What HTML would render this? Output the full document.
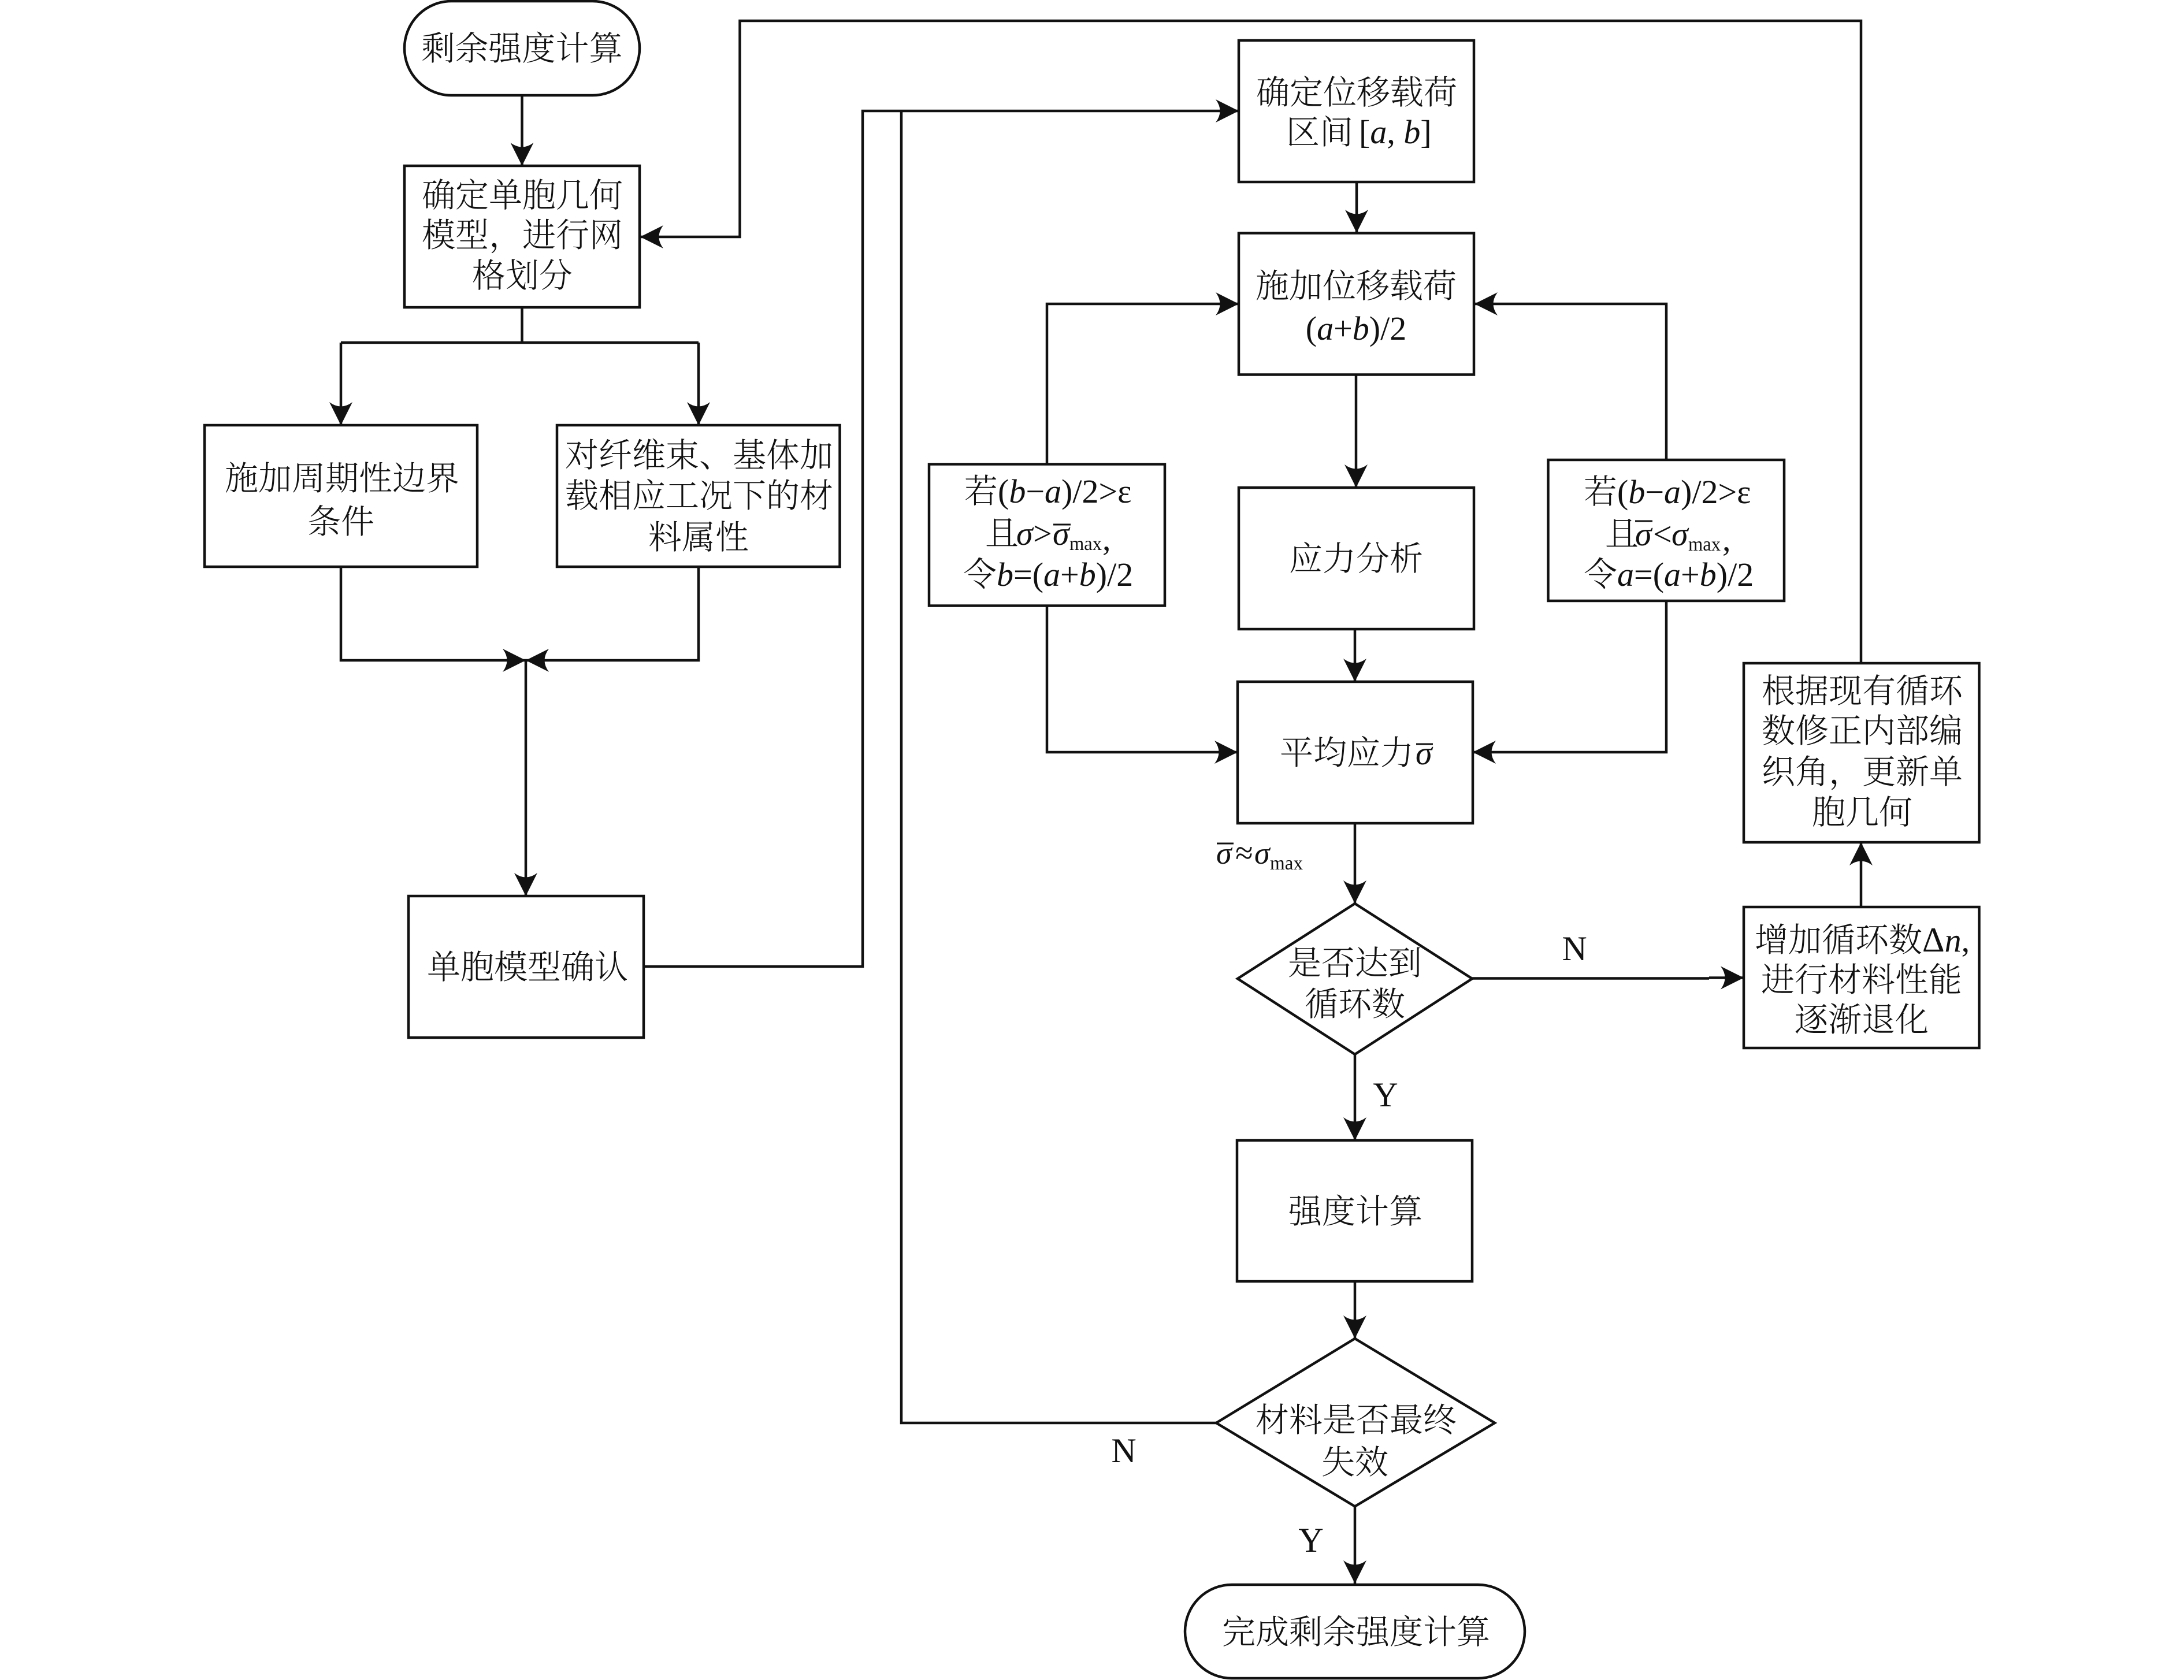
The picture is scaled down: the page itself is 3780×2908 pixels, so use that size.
<!DOCTYPE html>
<html><head><meta charset="utf-8"><style>
html,body{margin:0;padding:0;background:#fff}
svg{display:block}
text{font-family:"Liberation Serif","Noto Serif CJK SC",serif;font-size:58px;fill:#111;text-anchor:middle;font-weight:300}
.l{text-anchor:start}
.i{font-style:italic;font-weight:400}
.s{font-size:34px;font-weight:400;text-anchor:start}
.n{font-weight:400;font-size:60px}
.b{fill:#fff;stroke:#111;stroke-width:4.5}
.c{fill:none;stroke:#111;stroke-width:4.5}
.o{stroke:#111;stroke-width:3}
</style></head><body>
<svg xmlns="http://www.w3.org/2000/svg" width="3780" height="2908" viewBox="0 0 3780 2908">
<defs><path id="a" d="M0 0L-20-40Q0-25 20-40Z" fill="#111"/></defs>
<rect width="3780" height="2908" fill="#fff"/>

<!-- connectors -->
<path class="c" d="M903.5 165V287M903.5 532V593M590 593H1209M590 593V736M1209 593V736"/>
<path class="c" d="M590 981V1143H910M1209 981V1143H910M910 1143V1551"/>
<path class="c" d="M1114 1673H1493V192H2144M1560 192V2463H2105"/>
<path class="c" d="M3221 1148V36H1280.5V410H1108"/>
<path class="c" d="M2348 315V403M2347 648V844M2345 1089V1180M2345 1425V1564M2345 1825V1974M2345 2218V2317M2345 2607V2741"/>
<path class="c" d="M1812 803V526H2144M1812 1048V1302H2142M2884 796V526H2552M2884 1040V1302H2549"/>
<path class="c" d="M2548 1693.5H2958M2958 1692.5H3018M3221 1570V1458"/>

<!-- shapes -->
<rect class="b" x="700" y="2" width="407" height="163" rx="81.5"/>
<rect class="b" x="700" y="287" width="407" height="245"/>
<rect class="b" x="354" y="736" width="472" height="245"/>
<rect class="b" x="964" y="736" width="489.5" height="245"/>
<rect class="b" x="707" y="1551" width="407" height="245"/>
<rect class="b" x="2144" y="70" width="407" height="245"/>
<rect class="b" x="2144" y="403.500" width="407" height="245"/>
<rect class="b" x="1608" y="803.500" width="408" height="245"/>
<rect class="b" x="2679.500" y="796" width="408.500" height="244"/>
<rect class="b" x="2144" y="844" width="407" height="245"/>
<rect class="b" x="2142" y="1180" width="407" height="245"/>
<rect class="b" x="3018" y="1148" width="407.5" height="310"/>
<rect class="b" x="3018" y="1570" width="407.5" height="244"/>
<polygon class="b" points="2142,1694 2345,1564 2548,1694 2345,1825"/>
<rect class="b" x="2141" y="1974" width="407" height="244"/>
<polygon class="b" points="2105,2463 2345,2317 2587,2463 2345,2607.5"/>
<rect class="b" x="2051" y="2743" width="588" height="162" rx="81"/>

<!-- arrowheads -->
<use href="#a" transform="translate(903.5 287)"/>
<use href="#a" transform="translate(590 736)"/>
<use href="#a" transform="translate(1209 736)"/>
<use href="#a" transform="translate(910 1143) rotate(-90)"/>
<use href="#a" transform="translate(910 1143) rotate(90)"/>
<use href="#a" transform="translate(910 1551)"/>
<use href="#a" transform="translate(1108 410) rotate(90)"/>
<use href="#a" transform="translate(2144 192) rotate(-90)"/>
<use href="#a" transform="translate(2348 403)"/>
<use href="#a" transform="translate(2144 526) rotate(-90)"/>
<use href="#a" transform="translate(2552 526) rotate(90)"/>
<use href="#a" transform="translate(2347 844)"/>
<use href="#a" transform="translate(2345 1180)"/>
<use href="#a" transform="translate(2142 1302) rotate(-90)"/>
<use href="#a" transform="translate(2549 1302) rotate(90)"/>
<use href="#a" transform="translate(2345 1564)"/>
<use href="#a" transform="translate(2345 1974)"/>
<use href="#a" transform="translate(2345 2317)"/>
<use href="#a" transform="translate(2345 2741)"/>
<use href="#a" transform="translate(3018 1692.500) rotate(-90)"/>
<use href="#a" transform="translate(3221 1458) rotate(180)"/>

<!-- labels -->
<text x="903.5" y="104">剩余强度计算</text>
<text x="904" y="358">确定单胞几何</text>
<text x="904" y="427">模型，进行网</text>
<text x="904" y="497">格划分</text>
<text x="592" y="848">施加周期性边界</text>
<text x="590" y="923">条件</text>
<text x="1210" y="808">对纤维束、基体加</text>
<text x="1210" y="878">载相应工况下的材</text>
<text x="1209" y="950">料属性</text>
<text x="913" y="1694">单胞模型确认</text>
<text x="2348" y="180">确定位移载荷</text>
<text class="l" x="2226" y="249">区间</text>
<text class="l" x="2352" y="248">[<tspan class="i">a</tspan>, <tspan class="i">b</tspan>]</text>
<text x="2347" y="515">施加位移载荷</text>
<text x="2347" y="588">(<tspan class="i">a</tspan>+<tspan class="i">b</tspan>)/2</text>

<text class="l" x="1669" y="870">若(<tspan class="i">b</tspan>−<tspan class="i">a</tspan>)/2&gt;ε</text>
<text class="l" x="1705" y="943">且<tspan class="i" x="1759">σ</tspan><tspan x="1788">&gt;</tspan><tspan class="i" x="1822">σ</tspan></text>
<line class="o" x1="1823" y1="908" x2="1853" y2="908"/>
<text class="s" x="1851" y="952" textLength="56" lengthAdjust="spacingAndGlyphs">max</text>
<text class="l" x="1908" y="952">,</text>
<text class="l" x="1667" y="1014">令<tspan class="i">b</tspan>=(<tspan class="i">a</tspan>+<tspan class="i">b</tspan>)/2</text>

<text class="l" x="2741" y="871">若(<tspan class="i">b</tspan>−<tspan class="i">a</tspan>)/2&gt;ε</text>
<text class="l" x="2778" y="944">且<tspan class="i" x="2830">σ</tspan><tspan x="2861">&lt;</tspan><tspan class="i" x="2893">σ</tspan></text>
<line class="o" x1="2830" y1="902" x2="2860" y2="902"/>
<text class="s" x="2922" y="953" textLength="56" lengthAdjust="spacingAndGlyphs">max</text>
<text class="l" x="2981" y="953">,</text>
<text class="l" x="2741" y="1014">令<tspan class="i">a</tspan>=(<tspan class="i">a</tspan>+<tspan class="i">b</tspan>)/2</text>

<text x="2347" y="987">应力分析</text>
<text class="l" x="2215" y="1323">平均应力<tspan class="i" x="2450">σ</tspan></text>
<line class="o" x1="2451" y1="1288" x2="2480" y2="1288"/>

<text class="l i" style="font-size:54px" x="2105" y="1495">σ</text>
<line class="o" x1="2106" y1="1460" x2="2135" y2="1460"/>
<text class="l" style="font-size:56px;font-weight:400" x="2138" y="1495">≈</text>
<text class="l i" style="font-size:54px" x="2171" y="1495">σ</text>
<text class="s" x="2198" y="1505" textLength="57" lengthAdjust="spacingAndGlyphs">max</text>

<text x="2345" y="1687">是否达到</text>
<text x="2345" y="1758">循环数</text>
<text x="2346" y="2117">强度计算</text>
<text x="2347" y="2478">材料是否最终</text>
<text x="2345" y="2551">失效</text>
<text x="2347" y="2845">完成剩余强度计算</text>
<text x="3223" y="1216">根据现有循环</text>
<text x="3223" y="1285">数修正内部编</text>
<text x="3223" y="1356">织角，更新单</text>
<text x="3223" y="1426">胞几何</text>
<text class="l" x="3037" y="1647">增加循环数<tspan class="n">Δ</tspan><tspan class="i">n</tspan>,</text>
<text x="3222" y="1716">进行材料性能</text>
<text x="3222" y="1785">逐渐退化</text>
<text class="n" x="2725" y="1662">N</text>
<text class="n" x="2398" y="1915">Y</text>
<text class="n" x="1945" y="2531">N</text>
<text class="n" x="2269" y="2686">Y</text>
</svg>
</body></html>
